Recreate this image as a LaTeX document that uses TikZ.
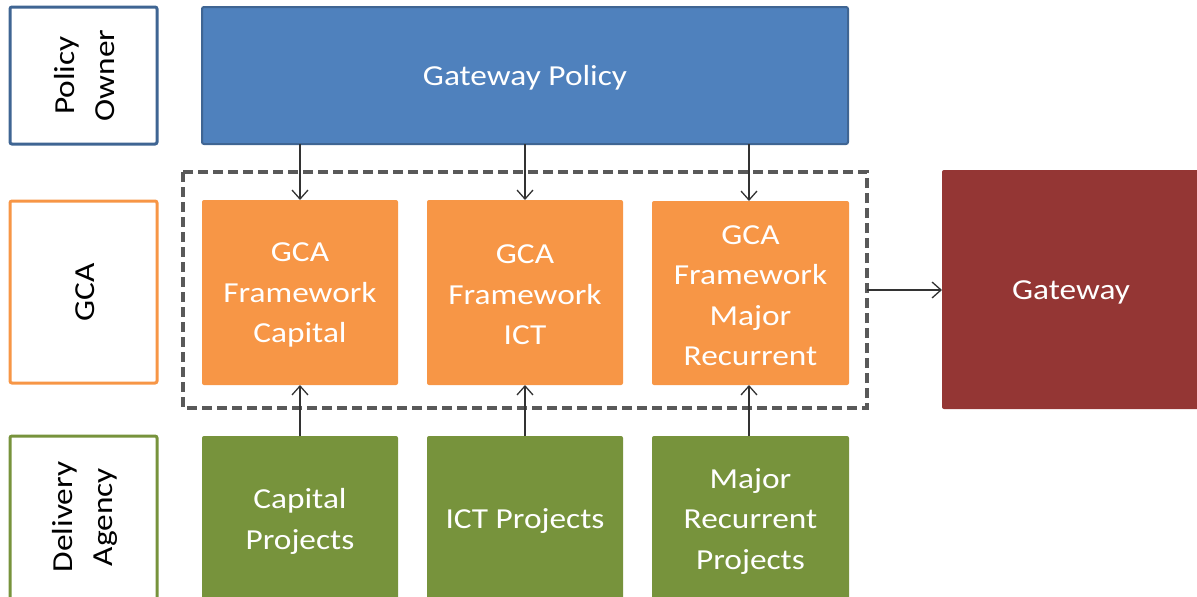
\documentclass[tikz,border=0pt]{standalone}
\usepackage{fontspec}
\setmainfont{Carlito}[FakeStretch=1.15]
\usetikzlibrary{arrows.meta}
\definecolor{pblue}{HTML}{4F81BD}
\definecolor{pblueb}{HTML}{3F6593}
\definecolor{porange}{HTML}{F79646}
\definecolor{pgreen}{HTML}{77933C}
\definecolor{pred}{HTML}{943634}
\definecolor{pgray}{HTML}{595959}
\definecolor{parrow}{HTML}{333333}
\tikzset{
  x=1pt, y=-1pt,
  txt/.style={font=\fontsize{29}{40.5}\selectfont, align=center},
  lbl/.style={draw, line width=3pt, rounded corners=2pt, fill=white, txt, text=black},
  fbox/.style={rounded corners=2pt, txt, text=white},
  conn/.style={draw=parrow, line width=1.3pt, -{Straight Barb[length=9pt,width=16pt,line width=1.3pt]}},
}
\begin{document}
\begin{tikzpicture}
\useasboundingbox (0,0) rectangle (1197,597);
% label boxes
\draw[lbl, draw=pblueb] (10,7) rectangle (157,144);
\node[txt, rotate=90] (lpo) at (84.5,75.5) {Policy\\Owner};
\draw[lbl, draw=porange] (10,201) rectangle (157,383);
\node[txt, rotate=90] (lgca) at (85,292) {GCA};
\draw[lbl, draw=pgreen] (10,436) rectangle (157,610);
\node[txt, rotate=90] (lda) at (85,517) {Delivery\\Agency};
% policy
\filldraw[fbox, fill=pblue, draw=pblueb, line width=2pt] (202,7) rectangle (848,144);
\node[txt, text=white] (gp) at (525,78) {Gateway Policy};
\coordinate (gpb1) at (300,144);
\coordinate (gpb2) at (525,144);
\coordinate (gpb3) at (749,144);
% dashed
\draw[pgray, line width=3.3pt, dash pattern=on 10pt off 5pt] (183,172) rectangle (867,408);
\coordinate (dash) at (867,290);
% orange
\fill[fbox, fill=porange] (202,200) rectangle (398,385);
\fill[fbox, fill=porange] (427,200) rectangle (623,385);
\fill[fbox, fill=porange] (652,201) rectangle (849,385);
\node[txt, text=white, minimum width=196pt, minimum height=185pt] (o1) at (300,295) {GCA\\Framework\\Capital};
\node[txt, text=white, minimum width=196pt, minimum height=185pt] (o2) at (525,295) {GCA\\Framework\\ICT};
\node[txt, text=white, minimum width=197pt, minimum height=184pt] (o3) at (750.5,295.5) {GCA\\Framework\\Major\\Recurrent};
% green
\fill[fbox, fill=pgreen] (202,436) rectangle (398,610);
\fill[fbox, fill=pgreen] (427,436) rectangle (623,610);
\fill[fbox, fill=pgreen] (652,436) rectangle (849,610);
\node[txt, text=white, minimum width=196pt, minimum height=166pt] (g1) at (300,521.5) {Capital\\Projects};
\node[txt, text=white, minimum width=196pt, minimum height=166pt] (g2) at (525,521.5) {ICT Projects};
\node[txt, text=white, minimum width=197pt, minimum height=166pt] (g3) at (750.5,521.5) {Major\\Recurrent\\Projects};
% gateway
\fill[fbox, fill=pred] (942,170) rectangle (1200,409);
\node[txt, text=white, minimum width=258pt, minimum height=239pt] (gw) at (1071,292.5) {Gateway};
% connectors
\draw[conn] (gpb1) -- (300,200);
\draw[conn] (gpb2) -- (525,200);
\draw[conn] (gpb3) -- (749,201);
\draw[conn] (300,436) -- (300,385);
\draw[conn] (525,436) -- (525,385);
\draw[conn] (749,436) -- (749,385);
\draw[conn] (dash) -- (942,290);
\end{tikzpicture}
\end{document}
